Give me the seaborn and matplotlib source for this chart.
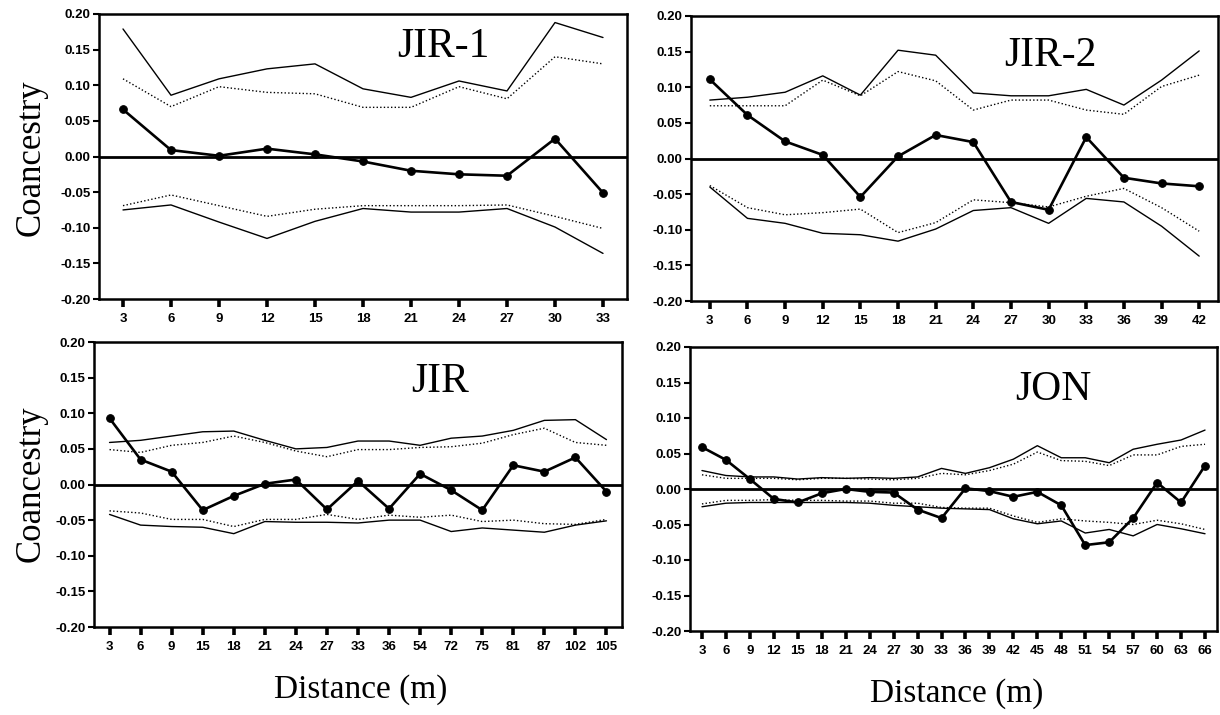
import numpy as np
import matplotlib
matplotlib.use("Agg")
from matplotlib import pyplot as plt
import seaborn as sns

# distances (x tick labels) for each population
dist_jir1 = [3, 6, 9, 12, 15, 18, 21, 24, 27, 30, 33]
dist_jir2 = [3, 6, 9, 12, 15, 18, 21, 24, 27, 30, 33, 36, 39, 42]
dist_jir = [3, 6, 9, 15, 18, 21, 24, 27, 33, 36, 54, 72, 75, 81, 87, 102, 105]
dist_jon = [3, 6, 9, 12, 15, 18, 21, 24, 27, 30, 33, 36, 39, 42, 45, 48, 51, 54, 57, 60, 63, 66]

# JIR-1
obs_jir1 = [0.066, 0.009, 0.001, 0.011, 0.003, -0.007, -0.020, -0.025, -0.027, 0.025, -0.051]
up_s_jir1 = [0.179, 0.086, 0.109, 0.123, 0.130, 0.095, 0.083, 0.106, 0.092, 0.188, 0.167]
up_d_jir1 = [0.109, 0.070, 0.098, 0.090, 0.088, 0.069, 0.069, 0.098, 0.081, 0.140, 0.130]
lo_d_jir1 = [-0.069, -0.054, -0.069, -0.084, -0.074, -0.069, -0.069, -0.069, -0.068, -0.084, -0.101]
lo_s_jir1 = [-0.075, -0.068, -0.092, -0.115, -0.091, -0.073, -0.078, -0.078, -0.073, -0.099, -0.136]

# JIR-2
obs_jir2 = [0.111, 0.061, 0.024, 0.005, -0.054, 0.003, 0.033, 0.023, -0.061, -0.072, 0.030, -0.027, -0.035, -0.039]
up_s_jir2 = [0.082, 0.086, 0.093, 0.116, 0.089, 0.152, 0.145, 0.092, 0.088, 0.088, 0.097, 0.075, 0.110, 0.151]
up_d_jir2 = [0.074, 0.074, 0.074, 0.110, 0.088, 0.122, 0.109, 0.068, 0.082, 0.082, 0.068, 0.062, 0.101, 0.117]
lo_d_jir2 = [-0.038, -0.069, -0.079, -0.076, -0.071, -0.104, -0.090, -0.058, -0.062, -0.068, -0.053, -0.042, -0.069, -0.102]
lo_s_jir2 = [-0.040, -0.084, -0.091, -0.105, -0.107, -0.116, -0.099, -0.073, -0.069, -0.091, -0.056, -0.061, -0.095, -0.137]

# JIR
obs_jir = [0.093, 0.035, 0.018, -0.036, -0.016, 0.001, 0.007, -0.035, 0.005, -0.034, 0.015, -0.008, -0.036, 0.027, 0.018, 0.038, -0.010]
up_s_jir = [0.059, 0.062, 0.068, 0.074, 0.075, 0.062, 0.050, 0.052, 0.061, 0.061, 0.055, 0.065, 0.068, 0.076, 0.090, 0.091, 0.063]
up_d_jir = [0.049, 0.045, 0.055, 0.059, 0.068, 0.059, 0.047, 0.039, 0.049, 0.049, 0.052, 0.053, 0.058, 0.070, 0.079, 0.059, 0.055]
lo_d_jir = [-0.037, -0.040, -0.049, -0.049, -0.059, -0.049, -0.049, -0.042, -0.049, -0.043, -0.046, -0.043, -0.052, -0.050, -0.055, -0.056, -0.049]
lo_s_jir = [-0.042, -0.057, -0.059, -0.060, -0.069, -0.052, -0.053, -0.053, -0.054, -0.050, -0.050, -0.066, -0.061, -0.064, -0.067, -0.057, -0.051]

# JON
obs_jon = [0.059, 0.041, 0.014, -0.014, -0.019, -0.006, 0.000, -0.004, -0.005, -0.029, -0.041, 0.001,
           -0.003, -0.011, -0.004, -0.023, -0.079, -0.075, -0.041, 0.009, -0.019, 0.033]
up_s_jon = [0.026, 0.019, 0.017, 0.017, 0.014, 0.016, 0.015, 0.016, 0.015, 0.017, 0.029, 0.022,
            0.030, 0.042, 0.061, 0.044, 0.044, 0.037, 0.056, 0.063, 0.069, 0.083]
up_d_jon = [0.020, 0.015, 0.015, 0.015, 0.013, 0.015, 0.015, 0.014, 0.013, 0.015, 0.022, 0.020,
            0.026, 0.035, 0.052, 0.040, 0.039, 0.033, 0.048, 0.048, 0.060, 0.063]
lo_d_jon = [-0.021, -0.016, -0.016, -0.015, -0.016, -0.016, -0.017, -0.017, -0.020, -0.020, -0.026, -0.027,
            -0.027, -0.038, -0.047, -0.042, -0.045, -0.047, -0.050, -0.044, -0.049, -0.057]
lo_s_jon = [-0.025, -0.020, -0.019, -0.019, -0.019, -0.019, -0.019, -0.020, -0.023, -0.025, -0.027, -0.028,
            -0.029, -0.042, -0.049, -0.045, -0.062, -0.057, -0.066, -0.050, -0.056, -0.063]

sns.set_style("ticks")
plt.rcParams['axes.unicode_minus'] = False
plt.rcParams['font.family'] = ['Liberation Sans', 'DejaVu Sans']
plt.rcParams['text.color'] = 'black'
plt.rcParams['xtick.color'] = 'black'
plt.rcParams['ytick.color'] = 'black'

W, H = 1220, 715
fig = plt.figure(figsize=(W / 100, H / 100), dpi=100)


def add_panel(box):
    # box = left, top, right, bottom in pixels
    l, t, r, b = box
    return fig.add_axes([l / W, 1 - b / H, (r - l) / W, (b - t) / H])


def draw(ax, dist, obs, up_s, up_d, lo_d, lo_s, name, tx, ty):
    x = np.arange(len(dist))
    for vals, ls in [(up_s, '-'), (up_d, (0, (1, 1.6))), (lo_d, (0, (1, 1.6))), (lo_s, '-')]:
        sns.lineplot(x=x, y=vals, ax=ax, color='black', linestyle=ls, linewidth=1.0)
    ax.axhline(0, color='black', linewidth=2.0)
    sns.lineplot(x=x, y=obs, ax=ax, color='black', linewidth=1.9, marker='o',
                 markersize=5.5, markeredgecolor='black')

    ax.set_xlim(-0.5, len(dist) - 0.5)
    ax.set_ylim(-0.2, 0.2)
    ax.set_xticks(x)
    ax.set_xticklabels([str(d) for d in dist])
    yt = np.round(np.arange(-0.2, 0.201, 0.05), 2) + 0.0
    ax.set_yticks(yt)
    ax.set_yticklabels(['%.2f' % (v + 0.0) for v in yt])
    for lab in ax.get_xticklabels() + ax.get_yticklabels():
        lab.set_fontweight('bold')
        lab.set_fontsize(9.5)
        lab.set_color('black')
    ax.tick_params(axis='x', direction='out', length=6, width=2.6, pad=4)
    ax.tick_params(axis='y', direction='out', length=4, width=1.5, pad=2)
    for sp in ax.spines.values():
        sp.set_visible(True)
        sp.set_linewidth(1.8)
        sp.set_color('black')
    ax.set_xlabel('')
    ax.set_ylabel('')
    ax.text(tx, ty, name, transform=ax.transAxes, ha='center', va='center',
            fontsize=30, family='Liberation Serif', color='black')


ax1 = add_panel((99, 14, 627, 299))
ax2 = add_panel((691, 16, 1218, 301))
ax3 = add_panel((94, 342, 622, 627))
ax4 = add_panel((690, 347, 1217, 631))

draw(ax1, dist_jir1, obs_jir1, up_s_jir1, up_d_jir1, lo_d_jir1, lo_s_jir1, 'JIR-1', 0.653, 0.885)
draw(ax2, dist_jir2, obs_jir2, up_s_jir2, up_d_jir2, lo_d_jir2, lo_s_jir2, 'JIR-2', 0.681, 0.86)
draw(ax3, dist_jir, obs_jir, up_s_jir, up_d_jir, lo_d_jir, lo_s_jir, 'JIR', 0.655, 0.862)
draw(ax4, dist_jon, obs_jon, up_s_jon, up_d_jon, lo_d_jon, lo_s_jon, 'JON', 0.69, 0.848)

# shared labels
for y in (158, 484):
    fig.text(31 / W, 1 - y / H, 'Coancestry', rotation=90, ha='center', va='center',
             fontsize=25, family='Liberation Serif', color='black')
fig.text(361 / W, 1 - 690 / H, 'Distance (m)', ha='center', va='center',
         fontsize=24, family='Liberation Serif', color='black')
fig.text(957 / W, 1 - 694 / H, 'Distance (m)', ha='center', va='center',
         fontsize=24, family='Liberation Serif', color='black')

fig.savefig('out.png', dpi=100)
